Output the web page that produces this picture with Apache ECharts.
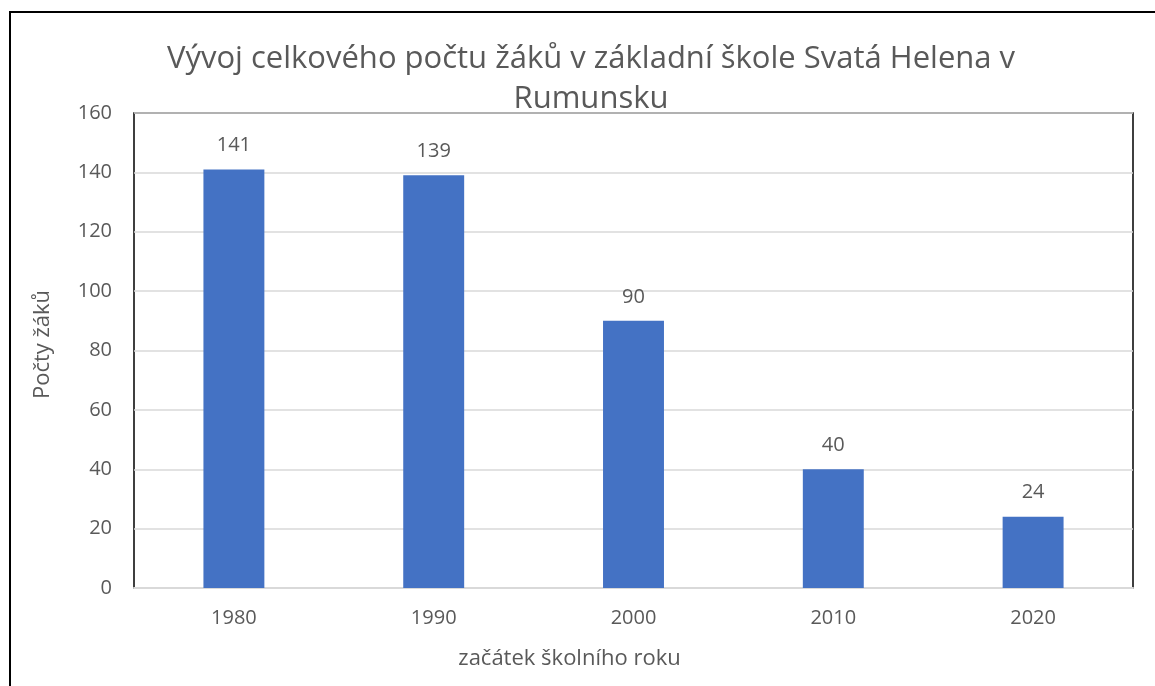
<!DOCTYPE html>
<html>
<head>
<meta charset="utf-8">
<script src="https://cdn.jsdelivr.net/npm/echarts@6/dist/echarts.min.js"></script>
<style>
  html, body { margin: 0; padding: 0; background: #fff; }
  #chart { width: 1155px; height: 686px; }
</style>
</head>
<body>
<div id="chart"></div>
<script>
const years = ['1980', '1990', '2000', '2010', '2020']
const pupils = [141, 139, 90, 40, 24]
const yTicks = { min: 0, max: 160, interval: 20 }

const textColor = '#595959'
const fontFamily = '"Open Sans", "Noto Sans", sans-serif'

const chart = echarts.init(document.getElementById('chart'))
chart.setOption({
  backgroundColor: '#fff',
  animation: false,
  textStyle: { fontFamily: fontFamily },
  title: {
    text: 'Vývoj celkového počtu žáků v základní škole Svatá Helena v\nRumunsku',
    left: 586,
    top: 34,
    textAlign: 'center',
    textStyle: {
      color: textColor,
      fontSize: 31,
      fontWeight: 'normal',
      lineHeight: 40,
      fontFamily: fontFamily
    }
  },
  // outer frame (top + left edges only visible)
  graphic: [{
    type: 'polyline',
    shape: { points: [[1160, 12], [10, 12], [10, 700]] },
    style: { stroke: '#000', lineWidth: 2, fill: null },
    silent: true
  }],
  grid: {
    left: 134,
    top: 113,
    right: 22,
    bottom: 98,
    show: true,
    borderColor: '#000',
    borderWidth: 1.5,
    backgroundColor: 'transparent'
  },
  xAxis: {
    type: 'category',
    data: years,
    name: 'začátek školního roku',
    nameLocation: 'middle',
    nameGap: 60,
    nameTextStyle: { color: textColor, fontSize: 22, padding: [0, 128, 0, 0] },
    axisLine: { show: true, lineStyle: { color: '#d9d9d9', width: 2 } },
    axisTick: { show: false },
    axisLabel: { color: textColor, fontSize: 20, margin: 20 }
  },
  yAxis: {
    type: 'value',
    min: yTicks.min,
    max: yTicks.max,
    interval: yTicks.interval,
    name: 'Počty žáků',
    nameLocation: 'middle',
    nameGap: 80,
    nameTextStyle: { color: textColor, fontSize: 22, padding: [0, 0, 0, 12] },
    axisLine: { show: false },
    axisTick: { show: false },
    axisLabel: { color: textColor, fontSize: 20, margin: 22 },
    splitLine: { show: true, lineStyle: { color: '#d9d9d9', width: 1.5 } }
  },
  series: [{
    name: 'Počty žáků',
    type: 'bar',
    data: pupils,
    barWidth: '30.5%',
    itemStyle: { color: '#4472c4' },
    label: {
      show: true,
      position: 'top',
      distance: 14,
      color: textColor,
      fontSize: 20
    }
  }]
})
</script>
</body>
</html>
